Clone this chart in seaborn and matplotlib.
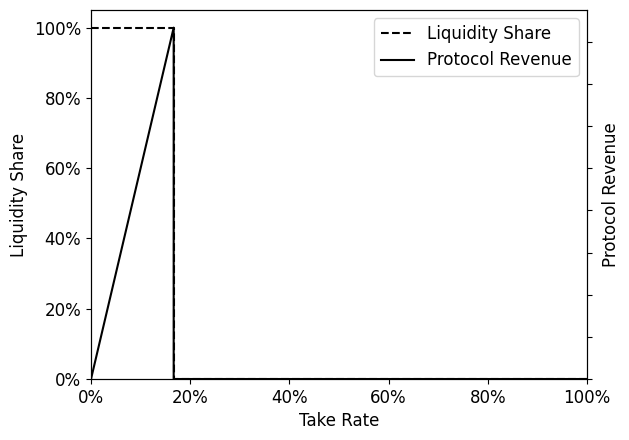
import matplotlib
matplotlib.use("Agg")
import matplotlib.pyplot as plt
import seaborn as sns
from matplotlib.ticker import PercentFormatter

# take rate sweep: liquidity stays until the break point, then leaves entirely
take_rate = [0.0, 1 / 6, 1 / 6, 1.0]
liquidity_share = [1.0, 1.0, 0.0, 0.0]
protocol_revenue = [0.0, 1 / 6, 0.0, 0.0]

plt.rcParams["font.size"] = 12

fig, ax = plt.subplots(figsize=(6.29, 4.4))
fig.subplots_adjust(left=0.1447, right=0.9332, top=0.977, bottom=0.1386)

sns.lineplot(x=take_rate, y=liquidity_share, ax=ax, color="black",
             linestyle="--", label="Liquidity Share", legend=False,
             estimator=None, sort=False)
ax.set_xlim(0, 1)
ax.set_ylim(0, 1.05)
ax.xaxis.set_major_formatter(PercentFormatter(1.0, decimals=0))
ax.yaxis.set_major_formatter(PercentFormatter(1.0, decimals=0))
ax.set_xlabel("Take Rate")
ax.set_ylabel("Liquidity Share")

ax2 = ax.twinx()
sns.lineplot(x=take_rate, y=protocol_revenue, ax=ax2, color="black",
             label="Protocol Revenue", legend=False,
             estimator=None, sort=False)
ax2.set_ylim(0, max(protocol_revenue) * 1.05)
ax2.set_yticklabels([])
ax2.set_ylabel("Protocol Revenue")

h1, l1 = ax.get_legend_handles_labels()
h2, l2 = ax2.get_legend_handles_labels()
ax2.legend(h1 + h2, l1 + l2, loc="upper right")

fig.savefig("out.png", dpi=100)
